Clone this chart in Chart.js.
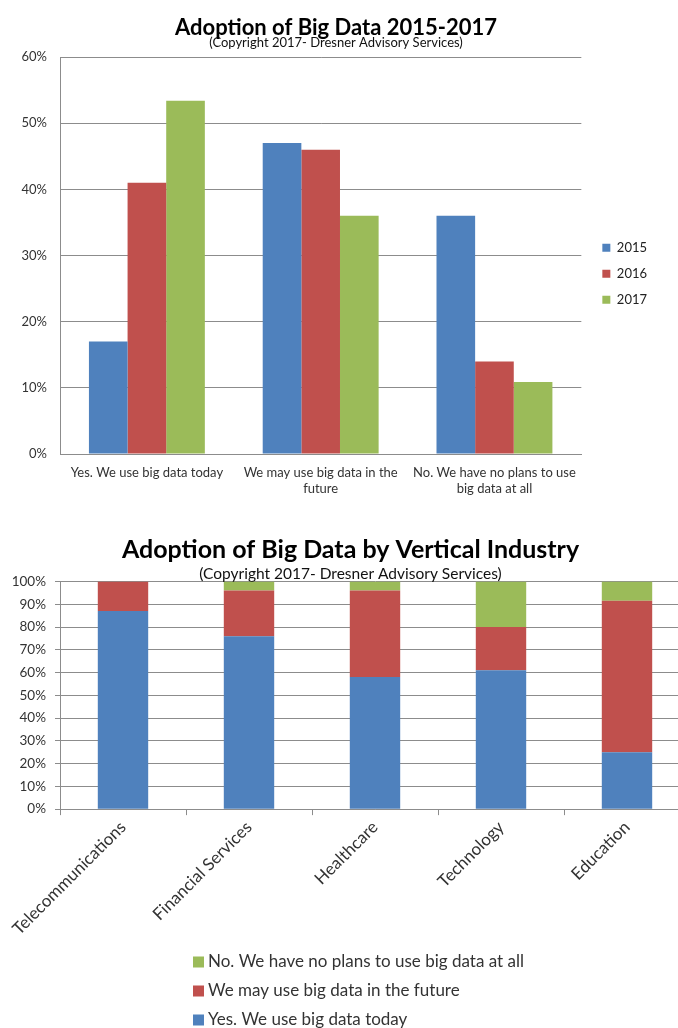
<!DOCTYPE html>
<html>
<head>
<meta charset="utf-8">
<title>Adoption of Big Data</title>
<script src="https://cdn.jsdelivr.net/npm/chart.js@4.4.1/dist/chart.umd.min.js"></script>
<style>
  body { margin: 0; background: #fff; width: 678px; height: 1028px; overflow: hidden; position: relative; }
  #year-box { position: absolute; left: 0; top: 0; width: 678px; height: 512px; }
  #industry-box { position: absolute; left: 0; top: 512px; width: 690px; height: 516px; }
</style>
</head>
<body>
<div id="year-box"><canvas id="year-chart"></canvas></div>
<div id="industry-box"><canvas id="industry-chart"></canvas></div>
<script>
// chart 1 - adoption by year
var answerLabels = [
    ['Yes. We use big data today'],
    ['We may use big data in the', 'future'],
    ['No. We have no plans to use', 'big data at all']
];
var years = ['2015', '2016', '2017'];
var values2015 = [17, 47, 36];
var values2016 = [41, 46, 14];
var values2017 = [53.4, 36, 10.9];

// chart 2 - adoption by vertical industry
var industries = ['Telecommunications', 'Financial Services', 'Healthcare', 'Technology', 'Education'];
var answers = ['Yes. We use big data today', 'We may use big data in the future', 'No. We have no plans to use big data at all'];
var useToday = [87, 76, 58, 61, 25];
var mayUse = [13, 20, 38, 19, 66.5];
var noPlans = [0, 4, 4, 20, 8.5];

var blue = '#4F81BD';
var red = '#C0504D';
var green = '#9BBB59';
var gridGray = '#8c8c8c';
var textGray = '#333333';

Chart.defaults.font.family = 'Lato, "Open Sans", sans-serif';
Chart.defaults.color = textGray;
Chart.defaults.animation = false;

function percent(value) {
    return value + '%';
}

// legend drawn one item per row, top item = last dataset
var stackedLegend = {
    id: 'stackedLegend',
    afterDraw: function (chart) {
        var ctx = chart.ctx;
        var sets = chart.data.datasets;
        ctx.save();
        ctx.font = '17px Lato, "Open Sans", sans-serif';
        ctx.textBaseline = 'middle';
        ctx.textAlign = 'left';
        var row = 0;
        for (var i = sets.length - 1; i >= 0; i--) {
            var y = chart.height - 66 + row * 29;
            ctx.fillStyle = sets[i].backgroundColor;
            ctx.fillRect(193, y - 5.5, 11, 11);
            ctx.fillStyle = textGray;
            ctx.fillText(sets[i].label, 208, y);
            row++;
        }
        ctx.restore();
    }
};

new Chart(document.getElementById('year-chart'), {
    type: 'bar',
    data: {
        labels: answerLabels,
        datasets: [
            { label: years[0], data: values2015, backgroundColor: blue },
            { label: years[1], data: values2016, backgroundColor: red },
            { label: years[2], data: values2017, backgroundColor: green }
        ]
    },
    options: {
        responsive: true,
        maintainAspectRatio: false,
        layout: { padding: { left: 15, right: 21, top: 0, bottom: 4 } },
        datasets: { bar: { categoryPercentage: 0.667, barPercentage: 1 } },
        plugins: {
            title: {
                display: true,
                text: 'Adoption of Big Data 2015-2017',
                color: '#000',
                font: { size: 22, weight: 'bold', lineHeight: 0.8 },
                padding: { top: 19, bottom: 0 }
            },
            subtitle: {
                display: true,
                text: '(Copyright 2017- Dresner Advisory Services)',
                color: '#111',
                font: { size: 13, lineHeight: 0.8 },
                padding: { top: 1, bottom: 9 }
            },
            legend: {
                position: 'right',
                title: { display: true, text: '', padding: { top: 25, bottom: 0 } },
                labels: { boxWidth: 8, boxHeight: 8, padding: 13, color: '#222', font: { size: 13 } }
            },
            tooltip: { enabled: false }
        },
        scales: {
            x: {
                grid: { display: false, drawTicks: false },
                border: { color: gridGray },
                ticks: { padding: 11, maxRotation: 0, font: { size: 13, lineHeight: 1.23 } }
            },
            y: {
                min: 0,
                max: 60,
                ticks: { stepSize: 10, padding: 13, callback: percent, font: { size: 13 } },
                grid: { color: gridGray, drawTicks: false },
                border: { color: gridGray },
                afterFit: function (scale) { scale.width = 45; }
            },
            gap: {
                position: 'right',
                grid: { display: false, drawTicks: false },
                ticks: { display: false },
                border: { display: false },
                afterFit: function (scale) { scale.width = 8; }
            }
        }
    }
});

new Chart(document.getElementById('industry-chart'), {
    type: 'bar',
    data: {
        labels: industries,
        datasets: [
            { label: answers[0], data: useToday, backgroundColor: blue },
            { label: answers[1], data: mayUse, backgroundColor: red },
            { label: answers[2], data: noPlans, backgroundColor: green }
        ]
    },
    options: {
        responsive: true,
        maintainAspectRatio: false,
        layout: { padding: { left: 11, right: 0, top: 0, bottom: 87 } },
        datasets: { bar: { categoryPercentage: 1, barPercentage: 0.4 } },
        plugins: {
            title: {
                display: true,
                text: 'Adoption of Big Data by Vertical Industry',
                color: '#000',
                font: { size: 25, weight: 'bold', lineHeight: 1.0 },
                padding: { top: 25, bottom: 0 }
            },
            subtitle: {
                display: true,
                text: '(Copyright 2017- Dresner Advisory Services)',
                color: '#111',
                font: { size: 15.5, lineHeight: 1.0 },
                padding: { top: 4, bottom: 0 }
            },
            legend: { display: false },
            tooltip: { enabled: false }
        },
        scales: {
            x: {
                stacked: true,
                grid: { drawOnChartArea: false, tickLength: 6, color: gridGray },
                border: { color: gridGray },
                ticks: { minRotation: 45, maxRotation: 45, padding: 2, font: { size: 17 } }
            },
            y: {
                stacked: true,
                min: 0,
                max: 100,
                ticks: { stepSize: 10, padding: 9, callback: percent, font: { size: 13.5 } },
                grid: { color: gridGray, tickLength: 5 },
                border: { color: gridGray },
                afterFit: function (scale) { scale.width = 49; }
            }
        }
    },
    plugins: [stackedLegend]
});
</script>
</body>
</html>
